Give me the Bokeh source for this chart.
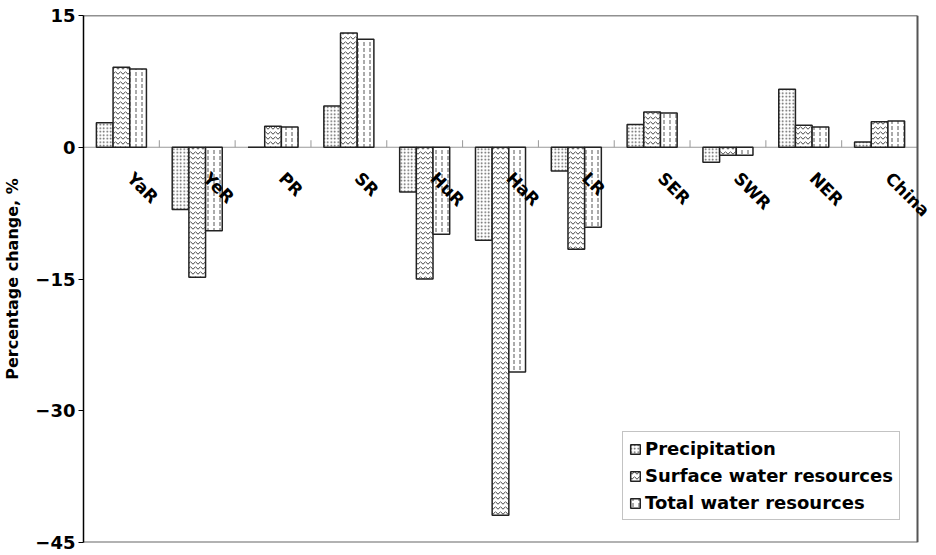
import numpy as np
from bokeh.plotting import figure
from bokeh.models import (ColumnDataSource, Range1d, FixedTicker, LabelSet,
                          Legend, LegendItem, Span)
from bokeh.core.properties import value
from bokeh.embed import file_html
from bokeh.resources import INLINE

# ---- data ----
regions = ["YaR", "YeR", "PR", "SR", "HuR", "HaR", "LR", "SER", "SWR", "NER", "China"]
precipitation = [2.8, -7.1, 0.0, 4.7, -5.1, -10.6, -2.7, 2.6, -1.7, 6.6, 0.6]
surface_water = [9.1, -14.8, 2.4, 13.0, -15.0, -41.9, -11.6, 4.0, -0.9, 2.5, 2.9]
total_water = [8.9, -9.5, 2.3, 12.3, -9.9, -25.6, -9.1, 3.9, -0.9, 2.3, 3.0]
series_names = ["Precipitation", "Surface water resources", "Total water resources"]
y_ticks = [-45, -30, -15, 0, 15]

FONT = "DejaVu Sans"
FS = "18px"
n = len(regions)
ymin, ymax = y_ticks[0], y_ticks[-1]
centers = np.arange(n) + 0.5
bw = 0.22

DATA_W = 834      # pixel width of the category area
FRAME_W = 853     # frame extends a bit further so labels may overflow
p = figure(frame_width=FRAME_W, frame_height=527, output_backend="svg",
           toolbar_location=None, x_axis_location=None,
           x_range=Range1d(0, n * FRAME_W / DATA_W), y_range=Range1d(ymin, ymax),
           min_border_left=75, min_border_right=0, min_border_top=15,
           min_border_bottom=10)
p.xgrid.visible = False
p.ygrid.visible = False
p.outline_line_color = None
p.background_fill_color = "white"
p.border_fill_color = "white"

# plot-area border (top, right, bottom)
p.segment(x0=[0], y0=[ymax], x1=[n], y1=[ymax], line_color="#222222", line_width=1.5)
p.segment(x0=[0], y0=[ymin], x1=[n], y1=[ymin], line_color="#666666", line_width=2)
p.add_layout(Span(location=n, dimension="height", line_color="#555555", line_width=2))

# zero line
p.segment(x0=[0], y0=[0], x1=[n], y1=[0], line_color="#999999", line_width=1.2)

# category boundary ticks at zero line
bounds = np.arange(1, n)
p.segment(x0=bounds, y0=0, x1=bounds, y1=0.8, line_color="#999999", line_width=1)

styles = [
    dict(hatch_pattern="dot", hatch_scale=3.5, hatch_weight=1.0, hatch_color="#555555"),
    dict(hatch_pattern="horizontal_wave", hatch_scale=5, hatch_weight=1.0, hatch_color="#444444"),
    dict(hatch_pattern="vertical_dash", hatch_scale=6, hatch_weight=1.0, hatch_color="#555555"),
]
items = []
for k, vals in enumerate([precipitation, surface_water, total_water]):
    src = ColumnDataSource(dict(x=centers + (k - 1) * bw, top=vals))
    r = p.vbar(x="x", top="top", bottom=0, width=bw, source=src,
               fill_color="white", line_color="#222222", line_width=1.5,
               **styles[k])
    items.append(LegendItem(label=series_names[k], renderers=[r]))

# category labels
lab_src = ColumnDataSource(dict(x=centers, y=[0] * n, text=regions))
labels = LabelSet(x="x", y="y", text="text", source=lab_src, angle=-np.pi / 4,
                  x_offset=16, y_offset=-21, text_align="left", text_baseline="top",
                  text_font=value(FONT), text_font_size=value("17px"),
                  text_font_style=value("bold"), text_color=value("black"))
p.add_layout(labels)

# y axis
p.yaxis.ticker = FixedTicker(ticks=y_ticks)
p.yaxis.minor_tick_line_color = None
p.yaxis.major_tick_in = 0
p.yaxis.major_tick_out = 5
p.yaxis.axis_line_color = "black"
p.yaxis.axis_line_width = 1.5
p.yaxis.major_tick_line_color = "black"
p.yaxis.major_label_text_font = FONT
p.yaxis.major_label_text_font_size = FS
p.yaxis.major_label_text_font_style = "bold"
p.yaxis.major_label_text_color = "black"
p.yaxis.major_label_standoff = 3
p.yaxis.axis_label = "Percentage change, %"
p.yaxis.axis_label_text_font = FONT
p.yaxis.axis_label_text_font_size = "16px"
p.yaxis.axis_label_text_font_style = "bold"
p.yaxis.axis_label_text_color = "black"
p.yaxis.axis_label_standoff = 10

legend = Legend(items=items, location=(539, 22), margin=0,
                label_text_font=FONT, label_text_font_size=FS,
                label_text_font_style="bold", label_text_color="black",
                glyph_width=12, glyph_height=12, label_standoff=4,
                spacing=6, padding=6, label_height=20,
                border_line_color="#888888", border_line_width=1,
                background_fill_color="white", background_fill_alpha=1)
p.add_layout(legend)

open("out.html", "w").write(file_html(p, INLINE))
